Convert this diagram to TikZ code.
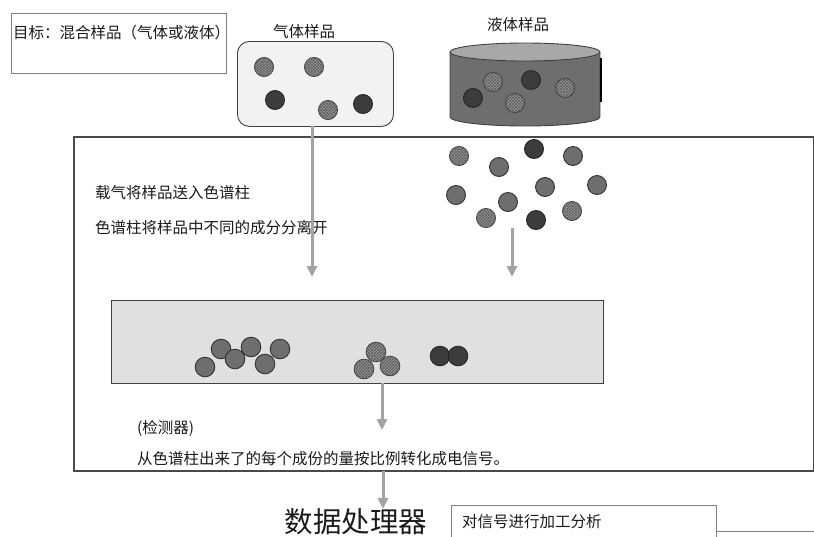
\documentclass[tikz,border=0pt]{standalone}
\usepackage{fontspec}
\setmainfont{Noto Sans CJK SC}
\usetikzlibrary{arrows.meta,patterns}
\definecolor{edge}{HTML}{404040}
\definecolor{frameC}{HTML}{4A4A4A}
\definecolor{arrowC}{HTML}{A3A3A3}
\definecolor{hatchF}{HTML}{959595}
\definecolor{hatchL}{HTML}{5E5E5E}
\definecolor{midF}{HTML}{6E6E6E}
\definecolor{darkF}{HTML}{3C3C3C}
\definecolor{txt}{HTML}{1A1A1A}
\definecolor{gasF}{HTML}{F2F2F2}
\definecolor{colF}{HTML}{E0E0E0}
\definecolor{cylBody}{HTML}{6E6E6E}
\definecolor{cylTop}{HTML}{A8A8A8}
\tikzset{
  hball/.style={draw=edge, line width=0.9pt, fill=hatchF, postaction={pattern=crosshatch, pattern color=hatchL}},
  mball/.style={draw=edge!80!black, line width=0.9pt, fill=midF},
  dball/.style={draw=black!85, line width=0.9pt, fill=darkF},
  flow/.style={draw=arrowC, line width=3pt, -{Triangle[width=10pt,length=11pt]}},
  lbl/.style={text=txt, inner sep=0pt, font=\fontsize{15.5}{18}\selectfont},
  boxr/.style={draw=edge, line width=0.9pt, inner sep=0pt, anchor=north west}
}
\begin{document}
\begin{tikzpicture}[x=1pt,y=1pt]
\useasboundingbox (0,0) rectangle (814,-536);
% goal box
\node[boxr, draw=gray, minimum width=215pt, minimum height=60pt] (goalbox) at (11,-13) {};
\node[lbl, anchor=west] (goal) at (13,-33) {目标：混合样品（气体或液体）};
% gas sample
\node[lbl] (gaslbl) at (304,-32) {气体样品};
\node[boxr, rounded corners=12pt, fill=gasF, minimum width=156pt, minimum height=85pt] (gasbox) at (237,-41) {};
\foreach \x/\y in {264/67,314/67,328/110} \draw[hball] (\x,-\y) circle (9.5);
\foreach \x/\y in {275/100,363/104} \draw[dball] (\x,-\y) circle (9.5);
% liquid sample
\node[lbl] (liqlbl) at (518,-25) {液体样品};
\fill[cylBody] (450,-52) rectangle (600,-117);
\fill[cylBody] (525,-117) ellipse [x radius=75pt, y radius=9pt];
\draw[edge, line width=0.9pt] (450,-52) -- (450,-117) arc [start angle=180, end angle=360, x radius=75pt, y radius=9pt] -- (600,-52);
\draw[edge, line width=0.9pt, fill=cylTop] (525,-52) ellipse [x radius=75pt, y radius=9pt];
\draw[black, line width=2pt] (601,-58) -- (601,-102);
\foreach \x/\y in {493/82,515/103,565/88} \draw[hball] (\x,-\y) circle (9.5);
\foreach \x/\y in {473/98,531/80} \draw[dball] (\x,-\y) circle (9.5);
% main frame
\node[boxr, draw=frameC, line width=2.2pt, minimum width=740pt, minimum height=334pt] (frame) at (73,-136) {};
\node[lbl, anchor=west] (t1) at (95,-193) {载气将样品送入色谱柱};
\node[lbl, anchor=west] (t2) at (95,-228) {色谱柱将样品中不同的成分分离开};
% scattered particles
\foreach \x/\y in {459/156,486/218,572/211} \draw[hball] (\x,-\y) circle (9.5);
\foreach \x/\y in {499/167,573/156,456/195,508/202,545/187,597/185} \draw[mball] (\x,-\y) circle (9.5);
\foreach \x/\y in {534/149,536/220} \draw[dball] (\x,-\y) circle (9.5);
% column
\node[boxr, fill=colF, minimum width=492pt, minimum height=83pt] (column) at (111,-300) {};
\foreach \x/\y in {205/367,221/349,235/359,251/347,265/364,280/349} \draw[mball] (\x,-\y) circle (9.8);
\foreach \x/\y in {376/352,364/369,390/366} \draw[hball] (\x,-\y) circle (9.8);
\foreach \x/\y in {440/356,458/356} \draw[dball] (\x,-\y) circle (9.8);
% arrows
\coordinate (a1) at (312,-126);
\coordinate (b1) at (312,-277);
\draw[flow] (a1) -- (b1);
\coordinate (a2) at (512,-228);
\coordinate (b2) at (512,-277);
\draw[flow] (a2) -- (b2);
\coordinate (a3) at (382,-383);
\coordinate (b3) at (382,-430);
\draw[flow] (a3) -- (b3);
% detector
\node[lbl, anchor=west] (det) at (137,-428) {(检测器)};
\node[lbl, anchor=west] (dettxt) at (137,-459) {从色谱柱出来了的每个成份的量按比例转化成电信号。};
% data processor
\coordinate (a4) at (383,-471);
\coordinate (b4) at (383,-509);
\draw[flow] (a4) -- (b4);
\node[text=txt, inner sep=0pt, font=\fontsize{28.5}{32}\selectfont] (dp) at (356,-522) {数据处理器};
\node[boxr, draw=gray, minimum width=265pt, minimum height=45pt] (sigbox) at (451,-505) {};
\node[lbl, anchor=west] (sig) at (462,-522) {对信号进行加工分析};
\coordinate (r1) at (716,-531);
\coordinate (r2) at (820,-531);
\draw[gray, line width=0.9pt] (r1) -- (r2);
\end{tikzpicture}
\end{document}
